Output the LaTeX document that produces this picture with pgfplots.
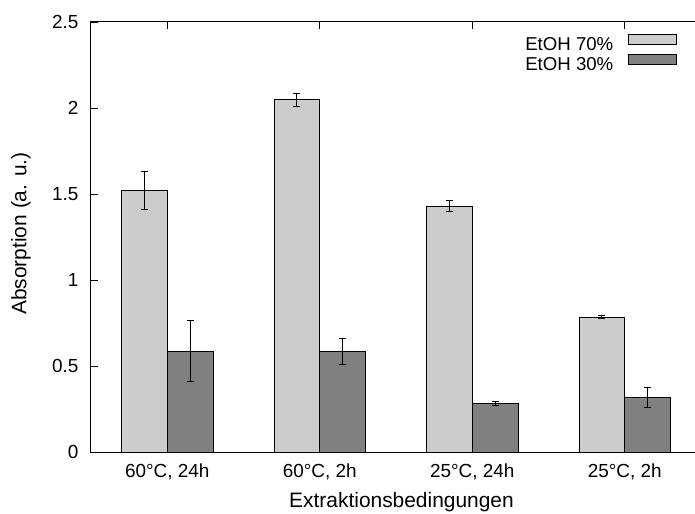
\documentclass[border=0pt]{standalone}
\usepackage{pgfplots}
\usepackage{pgfplotstable}
\pgfplotsset{compat=1.18}
\usepackage{fontspec}
\setmainfont{Liberation Sans}
\definecolor{barlight}{HTML}{CCCCCC}
\definecolor{bardark}{HTML}{808080}

\pgfplotstableread{
x y e
0 1.521 0.111
1 2.049 0.038
2 1.430 0.030
3 0.784 0.010
}\etohseventy
\pgfplotstableread{
x y e
0 0.586 0.177
1 0.584 0.075
2 0.283 0.010
3 0.318 0.057
}\etohthirty

\begin{document}
\begin{tikzpicture}
\begin{axis}[
  name=ax,
  scale only axis,
  width=610bp, height=430bp,
  xmin=-0.5, xmax=3.5,
  ymin=0, ymax=2.5,
  ybar=0pt, bar width=0.3,
  xtick={0,1,2,3},
  xticklabels={{60°C, 24h},{60°C, 2h},{25°C, 24h},{25°C, 2h}},
  ytick={0,0.5,1,1.5,2,2.5},
  ytick pos=left,
  xtick pos=both,
  tick align=inside,
  major tick length=7bp,
  tick style={black, line width=0.9bp},
  axis line style={line width=1bp},
  every tick label/.append style={font=\fontsize{19}{22}\selectfont},
  /pgf/number format/assume math mode=true,
  yticklabel style={xshift=-9bp},
  xticklabel style={yshift=-8bp},
  every axis x label/.style={at={(axis description cs:0.509,0)}, anchor=north,
    yshift=-36.5bp, font=\fontsize{21}{24}\selectfont},
  every axis y label/.style={at={(axis description cs:-0.115,0.508)}, anchor=center,
    rotate=90, font=\fontsize{21}{24}\selectfont},
  xlabel={Extraktionsbedingungen},
  ylabel={Absorption (a. u.)},
  legend style={at={(0.9607,0.972)}, anchor=north east, draw=none, fill=none,
    inner sep=0pt, row sep=2bp, column sep=14.5bp,
    nodes={inner sep=0pt}, font=\fontsize{18.7}{21}\selectfont},
  legend plot pos=right,
  legend cell align=right,
  error bars/y dir=both,
  error bars/y explicit,
  error bars/error mark options={rotate=90, mark size=3.5bp, line width=1bp, black},
  error bars/error bar style={line width=1bp, black},
]
\addplot[fill=barlight, draw=black, line width=1bp,
  legend image code/.code={\draw[fill=barlight, draw=black, line width=1bp] (0bp,0bp) rectangle (48bp,10bp);}]
  table[x=x, y=y, y error=e] {\etohseventy};
\addplot[fill=bardark, draw=black, line width=1bp,
  legend image code/.code={\draw[fill=bardark, draw=black, line width=1bp] (0bp,0bp) rectangle (48bp,10bp);}]
  table[x=x, y=y, y error=e] {\etohthirty};
\legend{EtOH 70\%, EtOH 30\%}
\end{axis}
\pgfresetboundingbox
\path (ax.south west) ++(-91bp,-62bp) rectangle ++(695bp,514bp);
\end{tikzpicture}
\end{document}
